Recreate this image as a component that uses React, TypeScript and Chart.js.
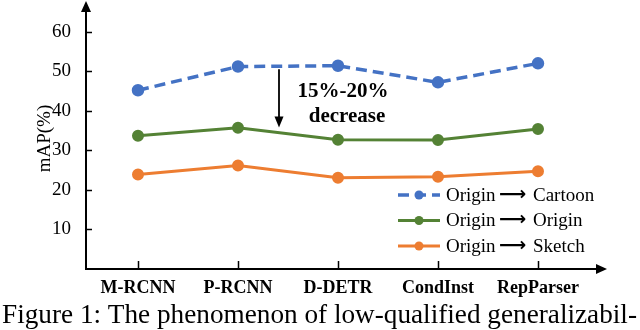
import React, { useEffect, useRef } from "react";
import { Chart, registerables } from "chart.js";

Chart.register(...registerables);

const categories = ["M-RCNN", "P-RCNN", "D-DETR", "CondInst", "RepParser"];
const seriesSource = "Origin";
const seriesTargets = ["Cartoon", "Origin", "Sketch"];
const cartoon = [45.2, 51.2, 51.4, 47.2, 52.0];
const origin = [33.7, 35.7, 32.7, 32.6, 35.4];
const sketch = [23.9, 26.2, 23.1, 23.3, 24.7];
const yTicks = [10, 20, 30, 40, 50, 60];
const annotationLines = ["15%-20%", "decrease"];
const caption = "Figure 1: The phenomenon of low-qualified generalizabil-";

const SERIF = "'Liberation Serif', 'Times New Roman', serif";
const ARROW = "⟶";

const overlayPlugin = {
  id: "overlay",
  afterDraw(chart: any) {
    const ctx = chart.ctx;
    const area = chart.chartArea;
    const xs = chart.scales.x;
    const ys = chart.scales.y;
    const axX = area.left - 2;
    const axY = ys.getPixelForValue(0);
    ctx.save();
    ctx.strokeStyle = "#000";
    ctx.fillStyle = "#000";
    ctx.lineWidth = 2;
    // y axis with arrow
    ctx.beginPath();
    ctx.moveTo(axX, axY + 1);
    ctx.lineTo(axX, 11);
    ctx.stroke();
    ctx.beginPath();
    ctx.moveTo(axX - 5, 12);
    ctx.lineTo(axX + 5, 12);
    ctx.lineTo(axX, 1);
    ctx.closePath();
    ctx.fill();
    // x axis with arrow
    ctx.beginPath();
    ctx.moveTo(axX - 1, axY);
    ctx.lineTo(597, axY);
    ctx.stroke();
    ctx.beginPath();
    ctx.moveTo(596, axY - 5);
    ctx.lineTo(596, axY + 5);
    ctx.lineTo(607, axY);
    ctx.closePath();
    ctx.fill();
    // ticks
    ctx.lineWidth = 1.5;
    yTicks.forEach((v) => {
      const py = Math.round(ys.getPixelForValue(v)) + 0.5;
      ctx.beginPath();
      ctx.moveTo(axX, py);
      ctx.lineTo(axX + 6, py);
      ctx.stroke();
    });
    categories.forEach((_, i) => {
      const px = Math.round(xs.getPixelForValue(i)) + 0.5;
      ctx.beginPath();
      ctx.moveTo(px, axY);
      ctx.lineTo(px, axY - 8);
      ctx.stroke();
    });
    // annotation arrow
    const ax = xs.getPixelForValue(1.41);
    const aTop = ys.getPixelForValue(50.5);
    const aTip = ys.getPixelForValue(35.8);
    ctx.lineWidth = 1.8;
    ctx.beginPath();
    ctx.moveTo(ax, aTop);
    ctx.lineTo(ax, aTip - 9);
    ctx.stroke();
    ctx.beginPath();
    ctx.moveTo(ax - 4.5, aTip - 11);
    ctx.lineTo(ax + 4.5, aTip - 11);
    ctx.lineTo(ax, aTip);
    ctx.closePath();
    ctx.fill();
    // annotation text
    ctx.font = `bold 21px ${SERIF}`;
    ctx.textAlign = "center";
    ctx.textBaseline = "middle";
    ctx.fillText(annotationLines[0], xs.getPixelForValue(2.05), ys.getPixelForValue(44.8));
    ctx.fillText(annotationLines[1], xs.getPixelForValue(2.09), ys.getPixelForValue(38.6));
    // legend
    const rows = [195, 220.5, 246];
    chart.data.datasets.forEach((ds: any, i: number) => {
      const y = rows[i];
      ctx.save();
      ctx.strokeStyle = ds.borderColor;
      ctx.lineWidth = ds.borderWidth;
      ctx.setLineDash(ds.borderDash || []);
      ctx.beginPath();
      ctx.moveTo(398, y);
      ctx.lineTo(440, y);
      ctx.stroke();
      ctx.setLineDash([]);
      ctx.fillStyle = ds.pointBackgroundColor;
      ctx.beginPath();
      ctx.arc(419, y, 4.5, 0, Math.PI * 2);
      ctx.fill();
      ctx.restore();
      const [src, dst] = ds.label.split(" " + ARROW + " ");
      ctx.textAlign = "left";
      ctx.textBaseline = "middle";
      ctx.fillStyle = "#000";
      ctx.font = `19px ${SERIF}`;
      ctx.fillText(src, 446, y + 1);
      ctx.font = `bold 19px 'DejaVu Sans', sans-serif`;
      ctx.fillText(ARROW, 499, y);
      ctx.font = `19px ${SERIF}`;
      ctx.fillText(dst, 533, y + 1);
    });
    // caption
    ctx.font = `27px ${SERIF}`;
    ctx.textAlign = "left";
    ctx.textBaseline = "alphabetic";
    const w = ctx.measureText(caption).width;
    const target = 635;
    ctx.translate(2, 323);
    ctx.scale(target / w, 1);
    ctx.fillText(caption, 0, 0);
    ctx.restore();
  },
};

export default function App() {
  const ref = useRef<HTMLCanvasElement>(null);
  useEffect(() => {
    document.body.style.margin = "0";
    const mk = (label: string, data: number[], color: string, width: number, dash?: number[]) => ({
      label,
      data,
      borderColor: color,
      backgroundColor: color,
      pointBackgroundColor: color,
      pointBorderColor: color,
      borderWidth: width,
      borderDash: dash,
      pointRadius: 4.5,
      pointHoverRadius: 4.5,
      tension: 0,
      fill: false,
    });
    const label = (t: string) => `${seriesSource} ${ARROW} ${t}`;
    const chart = new Chart(ref.current as HTMLCanvasElement, {
      type: "line",
      data: {
        labels: categories,
        datasets: [
          mk(label(seriesTargets[0]), cartoon, "#4472C4", 3.5, [11, 6]),
          mk(label(seriesTargets[1]), origin, "#548235", 3),
          mk(label(seriesTargets[2]), sketch, "#ED7D31", 3),
        ],
      },
      options: {
        responsive: false,
        animation: false,
        events: [],
        layout: { padding: { top: 7, right: 52, left: 0, bottom: 0 } },
        plugins: { legend: { display: false }, tooltip: { enabled: false } },
        scales: {
          x: {
            type: "category",
            offset: true,
            grid: { display: false, drawTicks: false },
            border: { display: false },
            ticks: {
              color: "#000",
              font: { family: SERIF, size: 18, weight: "bold" },
              padding: 9,
              maxRotation: 0,
              autoSkip: false,
            },
            afterFit: (s: any) => {
              s.height = 61;
              s.paddingLeft = 0;
              s.paddingRight = 0;
              s.paddingTop = 0;
              s.paddingBottom = 0;
            },
          },
          y: {
            min: 0,
            max: 66,
            grid: { display: false, drawTicks: false },
            border: { display: false },
            ticks: {
              stepSize: 10,
              color: "#000",
              font: { family: SERIF, size: 19 },
              padding: 17,
            },
            afterBuildTicks: (s: any) => {
              s.ticks = yTicks.map((v) => ({ value: v }));
            },
            title: {
              display: true,
              text: "mAP(%)",
              color: "#000",
              font: { family: SERIF, size: 19 },
              padding: { top: 34, bottom: 0 },
            },
            afterFit: (s: any) => {
              s.width = 88;
              s.paddingTop = 0;
              s.paddingBottom = 0;
              s.paddingLeft = 0;
              s.paddingRight = 0;
            },
          },
        },
      },
      plugins: [overlayPlugin],
    });
    return () => chart.destroy();
  }, []);
  return (
    <div style={{ position: "absolute", left: 0, top: 0, width: 640, height: 330, background: "#fff" }}>
      <canvas ref={ref} width={640} height={330} />
    </div>
  );
}
